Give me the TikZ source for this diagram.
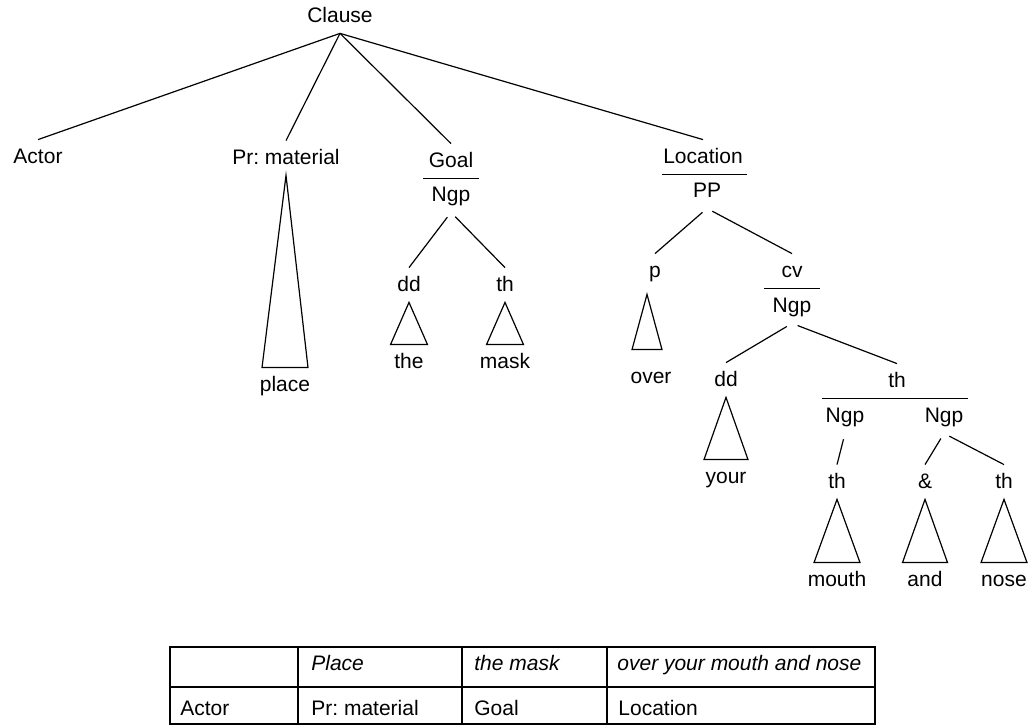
\documentclass[tikz,border=0pt]{standalone}
\usepackage{fontspec}
\setmainfont{Liberation Sans}
\usetikzlibrary{calc}
\tikzset{
  every node/.style={font=\fontsize{10.5}{12}\selectfont},
  lbl/.style={anchor=base, inner xsep=3pt, inner ysep=3pt, text height=9pt, text depth=2pt},
  br/.style={line width=0.6pt},
  sub/.style={br, shorten <=3pt},
  rule/.style={line width=0.6pt},
  grid/.style={line width=1.1pt},
  cell/.style={anchor=base west, inner sep=0pt},
}
% triangle from an apex down to a base centred on the given point
\newcommand{\tri}[3]{\draw[br, line join=miter] (#1) -- ($(#2)+(-#3,0)$) -- ($(#2)+(#3,0)$) -- cycle;}

\begin{document}
\frenchspacing
\begin{tikzpicture}[x=0.5pt, y=-0.5pt]
  \useasboundingbox (0,0) rectangle (1033,726);
  % clause level
  \node[lbl] (clause) at (340,23) {Clause};
  \node[lbl] (actor) at (38,164) {Actor};
  \node[lbl] (prmat) at (286,165) {Pr: material};
  \node[lbl] (goal) at (451,168) {Goal};
  \node[lbl] (goalngp) at (451,202) {Ngp};
  \node[lbl] (loc) at (703,164) {Location};
  \node[lbl] (pp) at (707,198) {PP};
  \foreach \c in {actor,prmat,goal,loc}
    \draw[br] (clause.south) -- (\c.north);
  \draw[rule] (goal.south) +(-28,0) -- +(28,0);
  \draw[rule] (loc.south) +(-41,0) -- +(44,0);
  % Pr: material
  \node[lbl] (place) at (285,392) {place};
  \tri{prmat.south}{place.north}{23}
  % Goal
  \node[lbl] (gdd) at (409,292) {dd};
  \node[lbl] (gth) at (505,292) {th};
  \node[lbl] (the) at (409,369) {the};
  \node[lbl] (mask) at (505,369) {mask};
  \foreach \c in {gdd,gth}
    \draw[sub] (goalngp.south) -- (\c.north);
  \tri{gdd.south}{the.north}{18.5}
  \tri{gth.south}{mask.north}{18.5}
  % Location
  \node[lbl] (prep) at (655,278) {p};
  \node[lbl] (cv) at (792,278) {cv};
  \node[lbl] (cvngp) at (792,313) {Ngp};
  \node[lbl] (over) at (651,384) {over};
  \foreach \c in {prep,cv}
    \draw[sub] (pp.south) -- (\c.north);
  \draw[rule] (cv.south) +(-28,0) -- +(28,0);
  \coordinate (ptop) at ([xshift=-4pt,yshift=-3pt]prep.south);
  \coordinate (pbase) at ([xshift=-2pt,yshift=5pt]over.north);
  \tri{ptop}{pbase}{15}
  \node[lbl] (ldd) at (726,387) {dd};
  \node[lbl] (lth) at (897,388) {th};
  \node[lbl] (ngpa) at (845,423) {Ngp};
  \node[lbl] (ngpb) at (944,423) {Ngp};
  \node[lbl] (your) at (726,484) {your};
  \foreach \c in {ldd,lth}
    \draw[sub] (cvngp.south) -- (\c.north);
  \draw[rule] (lth.south) +(-75,0) -- +(71,0);
  \tri{ldd.south}{your.north}{22}
  \node[lbl] (tha) at (837,489) {th};
  \node[lbl] (amp) at (925,489) {\&};
  \node[lbl] (thb) at (1004,489) {th};
  \draw[sub] (ngpa.south) -- (tha.north);
  \foreach \c in {amp,thb}
    \draw[sub] (ngpb.south) -- (\c.north);
  \node[lbl] (mouth) at (837,587) {mouth};
  \node[lbl] (and) at (925,587) {and};
  \node[lbl] (nose) at (1004,587) {nose};
  \tri{tha.south}{mouth.north}{23}
  \tri{amp.south}{and.north}{22.5}
  \tri{thb.south}{nose.north}{23}
  % table
  \draw[grid] (170,647) rectangle (875,724);
  \draw[grid] (170,687) -- (875,687);
  \foreach \x in {297.7,461.7,606.7}
    \draw[grid] (\x,647) -- (\x,724);
  \node[cell] (tplace) at (311,670) {\itshape Place};
  \node[cell] (tmask) at (474,670) {\itshape the mask};
  \node[cell] (tover) at (617,670) {\itshape over your mouth and nose};
  \node[cell] (tactor) at (180,715) {Actor};
  \node[cell] (tprmat) at (311,715) {Pr: material};
  \node[cell] (tgoal) at (474,715) {Goal};
  \node[cell] (tloc) at (618,715) {Location};
\end{tikzpicture}
\end{document}
